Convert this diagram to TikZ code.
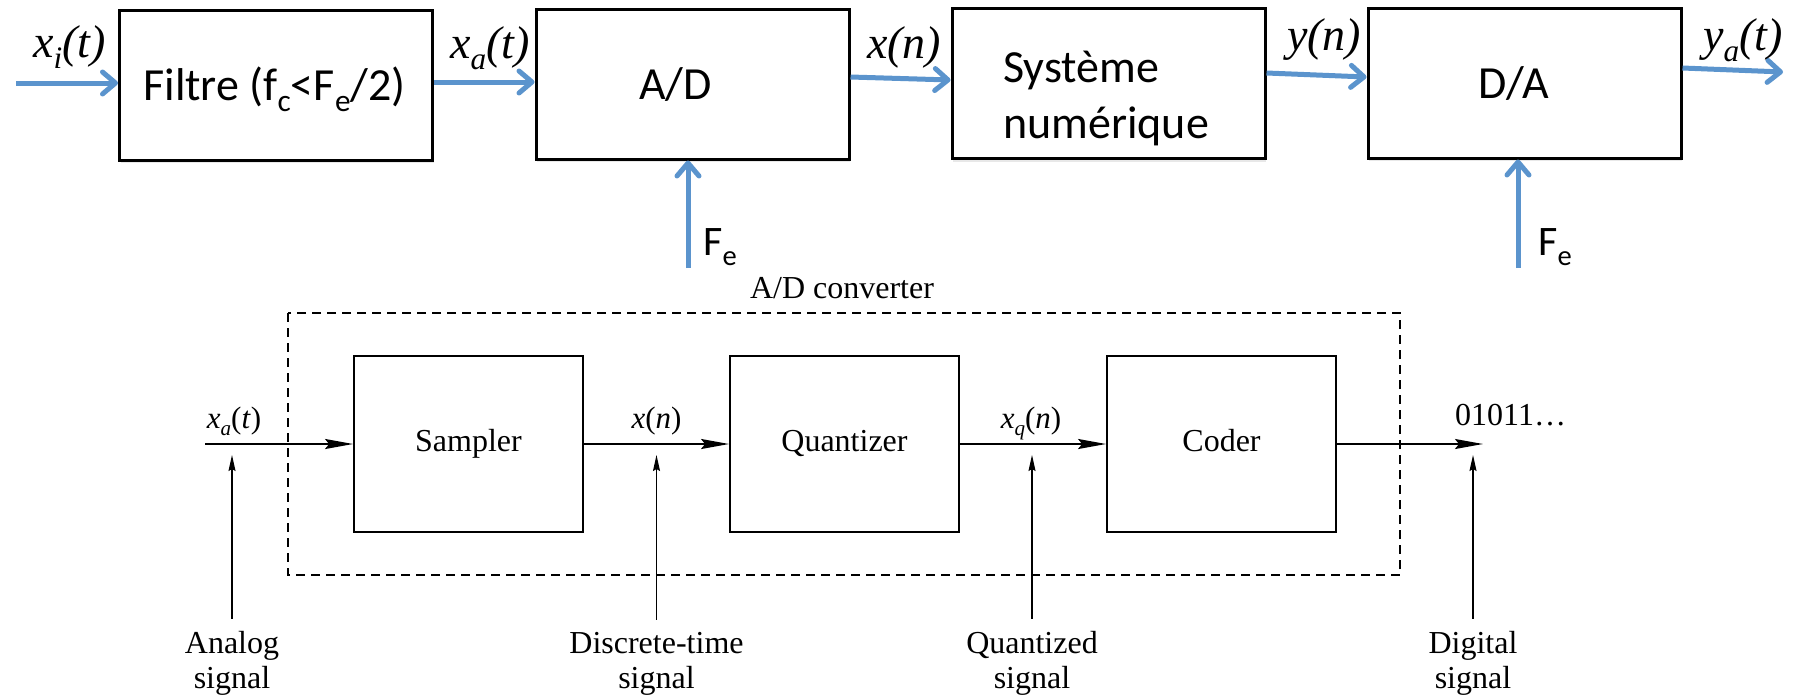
\documentclass[tikz,border=0pt]{standalone}
\usepackage{fontspec}
\usepackage{graphicx}
\setmainfont{Liberation Serif}
\newfontfamily\calib{Carlito}
\usetikzlibrary{arrows.meta,shadows,calc}
\definecolor{pptblue}{RGB}{91,148,205}
\newcommand{\dn}[1]{\raisebox{-.24em}{\scalebox{.68}{#1}}}
\tikzset{
  blk/.style={draw, line width=3pt, fill=white, minimum width=313pt, minimum height=150pt, inner sep=0pt,
    drop shadow={shadow xshift=1pt, shadow yshift=-3pt, opacity=.18}},
  blktxt/.style={font=\calib\fontsize{46}{56}\selectfont, inner sep=0pt, anchor=base},
  fetxt/.style={font=\calib\fontsize{42}{50}\selectfont, inner sep=0pt, anchor=base west},
  sig/.style={font=\fontsize{46}{50}\selectfont\itshape, inner sep=0pt, anchor=base west},
  bluearrow/.style={draw=pptblue, line width=5pt, -{Straight Barb[round,length=13pt,width=22pt]}},
  cbox/.style={draw, line width=1.8pt, minimum width=229pt, minimum height=176pt, inner sep=0pt,
    font=\fontsize{32}{35}\selectfont, text height=22pt, text depth=7pt},
  flow/.style={line width=1.8pt, -{Stealth[length=28pt,width=10pt,inset=4pt]}},
  tag/.style={line width=1.2pt, -{Stealth[length=16pt,width=7pt,inset=2pt]}},
  note/.style={font=\fontsize{32}{35}\selectfont, align=center, inner sep=0pt, anchor=base},
  mlab/.style={font=\fontsize{31}{35}\selectfont, inner sep=0pt, anchor=base},
  dashbox/.style={line width=1.8pt, dash pattern=on 9pt off 6pt}
}
\begin{document}
\begin{tikzpicture}[x=1pt,y=-1pt]
\useasboundingbox (0,0) rectangle (1796,697);
% chaine complete
\node[blk] (filtre) at (276,85) {};
\node[blk] (ad) at (692.5,84) {};
\node[blk] (sys) at (1108.5,83.5) {};
\node[blk] (da) at (1524.5,83) {};
\node[blktxt] (tfil) at (274.5,100) {Filtre (f\dn{c}<F\dn{e}/2)};
\node[blktxt] (tad) at (675.5,99) {A/D};
\node[blktxt, anchor=base west, align=left] (tsys) at (1003,138) {Système\\numérique};
\node[blktxt] (tda) at (1514,98) {D/A};

\coordinate (xin) at (16,83);
\coordinate (yout) at (1783,72);
\draw[bluearrow] (xin) -- (filtre.west |- xin);
\draw[bluearrow] ([yshift=3pt]filtre.east) -- ([yshift=2pt]ad.west);
\draw[bluearrow] ([yshift=7pt]ad.east) -- ([yshift=3.5pt]sys.west);
\draw[bluearrow] ([yshift=10.5pt]sys.east) -- ([yshift=6pt]da.west);
\draw[bluearrow] ([yshift=15pt]da.east) -- (yout);

\node[sig] (lxi) at (33,57) {x\dn{i}(t)};
\node[sig] (lxa) at (450,58) {x\dn{a}(t)};
\node[sig] (lxn) at (867,58) {x(n)};
\node[sig] (lyn) at (1287,50) {y(n)};
\node[sig] (lya) at (1703,50) {y\dn{a}(t)};

% horloge
\coordinate (fe1) at (688,268);
\coordinate (fe2) at (1518,268);
\draw[bluearrow] (fe1) -- (fe1 |- ad.south);
\draw[bluearrow] (fe2) -- (fe2 |- da.south);
\node[fetxt] (lfe1) at (703,255) {F\dn{e}};
\node[fetxt] (lfe2) at (1538,255) {F\dn{e}};

% convertisseur A/D
\draw[dashbox] (288,313) rectangle (1400,575);
\node[note] (adc) at (842,298) {A/D converter};
\node[cbox] (samp) at (468.5,444) {Sampler};
\node[cbox] (quant) at (844.5,444) {Quantizer};
\node[cbox] (cod) at (1221.5,444) {Coder};
\coordinate (xa) at (205,444);
\coordinate (bits) at (1483,444);
\draw[flow] (xa) -- (samp);
\draw[flow] (samp) -- (quant);
\draw[flow] (quant) -- (cod);
\draw[flow] (cod) -- (bits);

\node[mlab] (sxa) at (234,428) {\textit{x}\dn{\textit{a}}(\textit{t})};
\node[mlab] (sxn) at (656.5,428) {\textit{x}(\textit{n})};
\node[mlab] (sxq) at (1031,428) {\textit{x}\dn{\textit{q}}(\textit{n})};
\node[note, anchor=base west] (sbits) at (1455,425) {01011\ldots};

\node[note] (ana) at (232,688) {Analog\\signal};
\node[note] (dis) at (656.5,688) {Discrete-time\\signal};
\node[note] (qua) at (1032,688) {Quantized\\signal};
\node[note] (dig) at (1473,688) {Digital\\signal};
\foreach \n in {ana,dis,qua,dig}
  \draw[tag] ($(\n.north)+(0,-12)$) -- ($(\n.north |- xa)+(0,11)$);
\end{tikzpicture}
\end{document}
